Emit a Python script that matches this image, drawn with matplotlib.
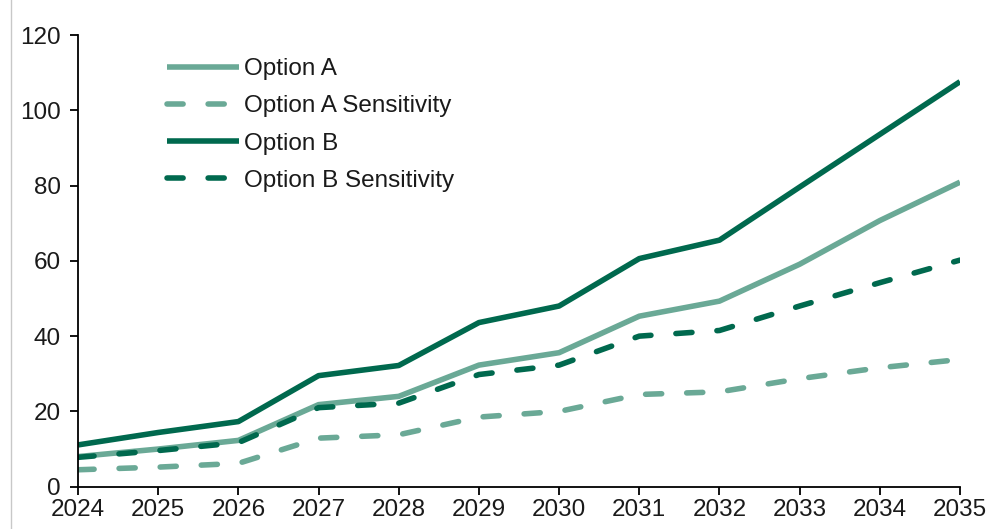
import matplotlib
matplotlib.use("Agg")
import matplotlib.pyplot as plt
from matplotlib.lines import Line2D

years = [2024, 2025, 2026, 2027, 2028, 2029, 2030, 2031, 2032, 2033, 2034, 2035]
option_a = [8.0, 10.0, 12.3, 21.8, 24.0, 32.3, 35.6, 45.3, 49.3, 59.1, 70.7, 80.9]
option_a_sens = [4.5, 5.2, 6.2, 12.9, 13.8, 18.5, 20.0, 24.5, 25.2, 28.7, 31.6, 33.8]
option_b = [11.1, 14.4, 17.3, 29.5, 32.2, 43.6, 48.0, 60.6, 65.5, 79.6, 93.6, 107.6]
option_b_sens = [7.8, 9.6, 11.7, 21.0, 22.2, 29.8, 32.3, 40.0, 41.5, 48.0, 54.2, 60.2]
yticks = [0, 20, 40, 60, 80, 100, 120]

light = "#6aa996"
dark = "#00694e"

plt.rcParams['font.family'] = ['Liberation Sans', 'DejaVu Sans']

fig = plt.figure(figsize=(9.87, 5.29), dpi=100)
ax = fig.add_axes([78/987, 1-486.7/529, (960-78)/987, (486.7-35)/529])

lw = 4.0
dash = (2.9, 4.5)
ax.plot(years, option_a, color=light, lw=lw, solid_capstyle='butt', solid_joinstyle='round', label="Option A")
ax.plot(years, option_a_sens, color=light, lw=lw, dashes=dash, dash_capstyle='round', label="Option A Sensitivity")
ax.plot(years, option_b, color=dark, lw=lw, solid_capstyle='butt', solid_joinstyle='round', label="Option B")
ax.plot(years, option_b_sens, color=dark, lw=lw, dashes=dash, dash_capstyle='round', label="Option B Sensitivity")

ax.set_xlim(years[0], years[-1])
ax.set_ylim(0, 120)
ax.set_xticks(years)
ax.set_xticklabels([str(y) for y in years])
ax.set_yticks(yticks)

for s in ['top', 'right']:
    ax.spines[s].set_visible(False)
for s in ['left', 'bottom']:
    ax.spines[s].set_linewidth(1.3)
    ax.spines[s].set_color('black')
ax.tick_params(axis='both', direction='out', length=5.5, width=1.3, labelsize=17.5, colors='black')
ax.tick_params(axis='x', pad=3)
ax.tick_params(axis='y', pad=7)
for lab in ax.get_xticklabels() + ax.get_yticklabels():
    lab.set_color('#1a1a1a')

leg = ax.legend(loc='upper left', bbox_to_anchor=(167/987, 1-58/529), bbox_transform=fig.transFigure,
                frameon=False, fontsize=17.5, handlelength=2.96, handletextpad=0.2,
                labelspacing=0.63, borderpad=0, borderaxespad=0)
for t in leg.get_texts():
    t.set_color('#1a1a1a')

fig.add_artist(Line2D([11/987, 11/987], [0, 1], transform=fig.transFigure, color='#c8c8c8', lw=1))

fig.savefig("out.png", dpi=100)
